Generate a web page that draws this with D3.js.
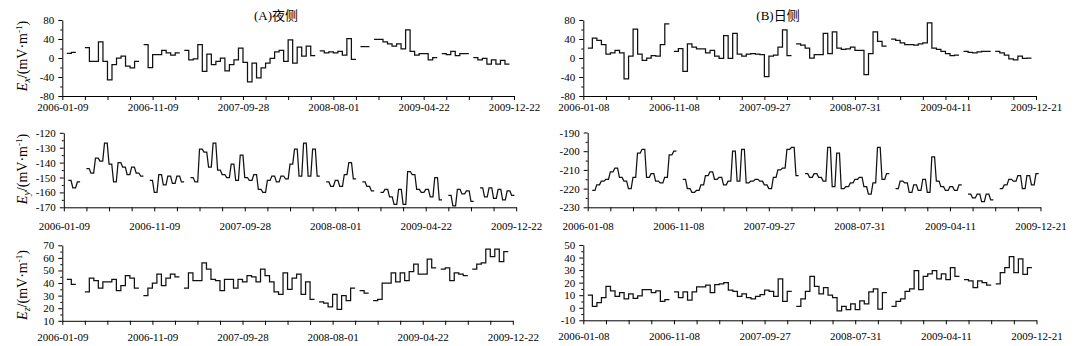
<!DOCTYPE html>
<html><head><meta charset="utf-8">
<script src="https://cdn.jsdelivr.net/npm/d3@7"></script>
<style>
body{margin:0;background:#fff}
svg{display:block}
text{font-family:"Liberation Serif","Times New Roman","Noto Sans CJK SC",serif;fill:#000}
</style>
</head><body>
<svg id="chart" width="1078" height="346"></svg>
<script>
// ---- tick labels (dates under the index axis) ----
const nightDates = ["2006-01-09","2006-11-09","2007-09-28","2008-08-01","2009-04-22","2009-12-22"];
const dayDates   = ["2006-01-08","2006-11-08","2007-09-27","2008-07-31","2009-04-11","2009-12-21"];

// ---- y tick values ----
const exTicks      = [-80,-40,0,40,80];
const eyNightTicks = [-170,-160,-150,-140,-130,-120];
const eyDayTicks   = [-230,-220,-210,-200,-190];
const ezNightTicks = [10,20,30,40,50,60,70];
const ezDayTicks   = [-10,0,10,20,30,40,50];

// ---- series (one value per index step, null = gap) ----
const exNight = [null,10,12,null,null,22,-7,-7,34,-7,-46,-14,0,4,-17,-21,-7,null,28,-20,7,7,16,11,6,11,null,16,-4,-2,28,-28,8,-14,-7,0,-27,-14,-4,21,-9,-50,-11,-42,-21,-11,-1,13,16,-7,38,-11,23,4,25,5,null,15,11,13,11,14,6,41,-3,null,24,24,null,39,39,34,30,25,30,19,59,14,6,9,9,-4,1,null,9,7,14,5,9,9,null,1,-4,-1,-13,-4,-13,-5,-13,null];
const exDay = [null,21,42,37,28,8,11,16,11,-44,4,61,8,-5,0,5,4,28,72,null,14,20,-28,30,23,19,19,11,16,4,-1,47,-1,52,8,4,8,9,8,7,-39,4,6,23,59,5,null,30,27,21,0,7,7,52,9,55,21,18,19,23,16,16,-35,9,55,35,25,null,40,37,32,28,28,27,30,32,74,21,18,14,9,5,6,null,14,12,11,13,14,14,null,14,11,6,-2,-4,4,-1,0,null];
const eyNight = [null,-152,-157,-153,null,-144,-147,-137,-139,-127,-141,-153,-140,-143,-148,-143,-147,-149,null,-152,-160,-148,-155,-149,-154,-149,-153,null,-150,-153,-131,-133,-143,-127,-145,-148,-150,-141,-152,-135,-150,-152,-148,-158,-160,-152,-149,-153,-149,-151,-141,-131,-149,-127,-149,-131,-149,null,-153,-156,-152,-156,-148,-140,-151,null,-153,-156,-159,null,-160,-158,-163,-168,-158,-168,-146,-148,-158,-160,-158,-163,-150,-165,null,-162,-169,-158,-161,-159,-166,null,-157,-163,-157,-164,-158,-165,-159,-162];
const eyDay = [null,-221,-218,-216,-215,-211,-209,-214,-216,-220,-214,-201,-199,-214,-212,-216,-217,-214,-202,-200,null,-215,-220,-222,-221,-218,-213,-211,-215,-214,-218,-216,-200,-216,-199,-217,-216,-215,-216,-218,-220,-214,-210,-209,-199,-198,-213,null,-212,-214,-212,-214,-216,-198,-219,-201,-220,-219,-217,-215,-214,-219,-223,-217,-198,-215,-212,null,-220,-216,-217,-222,-218,-221,-215,-222,-203,-216,-219,-221,-219,-221,-218,null,-223,-225,-223,-227,-223,-226,null,-220,-218,-215,-216,-213,-220,-213,-218,-212];
const ezNight = [null,43,39,null,null,33,44,42,36,41,41,43,34,38,46,44,36,null,30,36,40,47,38,44,47,45,null,36,48,42,42,56,51,43,42,34,43,43,36,43,41,46,45,41,51,46,41,33,31,48,35,44,47,31,41,27,null,25,24,21,31,19,30,26,36,null,34,32,null,26,27,40,40,48,41,48,42,49,55,47,47,59,52,null,51,52,42,48,47,46,null,51,55,56,67,61,67,57,65,null];
const ezDay = [null,10,1,4,8,17,13.5,9,12,7,11,7.5,9.5,14.5,14.5,12,13.5,5,6.5,null,12.7,8,12.7,6,12.7,16.7,16.7,18,12,18.5,19,20,14,13,9,11,8,7,9,10.5,14,13,9,23,5,13,null,1,7,13,25,17,11,16,10,8,-2.5,1,-1.5,3,-1.5,5.5,3,12.7,15,-1,12,null,1,5,7,13,15,29.5,14.5,25,27,29.5,23,27,22.5,32,25,null,22.5,21.5,16,21.5,20,18,null,19,28,32,40.7,28,39,26.5,32,null];

const N = 100; // index steps per panel

const svg = d3.select("#chart");

const panels = [
  {data: exNight, kind:"step", x0:62.3, x1:514,   yTop:20,  yBot:96,    ticks:exTicks,      dates:nightDates, labPad:3,  sub:"x", titleY:56},
  {data: exDay,   kind:"step", x0:583.3,x1:1036,  yTop:20,  yBot:96,    ticks:exTicks,      dates:dayDates,   labPad:3},
  {data: eyNight, kind:"saw",  x0:63.8, x1:516.2, yTop:132.8,yBot:207.3, ticks:eyNightTicks, dates:nightDates, labPad:11, sub:"y", titleY:169},
  {data: eyDay,   kind:"saw",  x0:587.7,x1:1040.5,yTop:132.5,yBot:207.3, ticks:eyDayTicks,   dates:dayDates,   labPad:11},
  {data: ezNight, kind:"step", x0:62.3, x1:512.8, yTop:245.3,yBot:320.8, ticks:ezNightTicks, dates:nightDates, labPad:8, sub:"z", titleY:285},
  {data: ezDay,   kind:"step", x0:583.3,x1:1036.5,yTop:245,  yBot:320.3, ticks:ezDayTicks,   dates:dayDates,   labPad:8}
];

function segments(arr){
  const segs=[]; let cur=null;
  arr.forEach((v,i)=>{
    if(v===null){ if(cur){segs.push(cur);cur=null;} }
    else { if(!cur) cur=[]; cur.push([i,v]); }
  });
  if(cur) segs.push(cur);
  return segs;
}

panels.forEach(p=>{
  const ext = d3.extent(p.ticks);
  const x = d3.scaleLinear().domain([0,N]).range([p.x0,p.x1]);
  const y = d3.scaleLinear().domain(ext).range([p.yBot,p.yTop]);
  const g = svg.append("g");

  // x axis
  const xa = d3.axisBottom(x)
    .tickValues(d3.range(0,N+1,5))
    .tickSize(4).tickSizeOuter(0).tickPadding(p.labPad)
    .tickFormat(d => d%20===0 ? p.dates[d/20] : "");
  const gx = g.append("g").attr("transform",`translate(0,${p.yBot})`).call(xa);
  gx.selectAll("text").style("font-size","11px");

  // y axis, major
  const ya = d3.axisLeft(y).tickValues(p.ticks).tickSize(4).tickSizeOuter(0).tickPadding(4)
    .tickFormat(d=>String(d));
  const gy = g.append("g").attr("transform",`translate(${p.x0},0)`).call(ya);
  gy.selectAll("text").style("font-size","11px");
  // y axis, minor
  const step = p.ticks[1]-p.ticks[0];
  const minor = p.ticks.slice(0,-1).map(t=>t+step/2);
  const gm = g.append("g").attr("transform",`translate(${p.x0},0)`)
    .call(d3.axisLeft(y).tickValues(minor).tickSize(2).tickFormat(""));
  gm.select(".domain").remove();

  g.selectAll(".domain").attr("stroke","#000").attr("stroke-width",1);
  g.selectAll(".tick line").attr("stroke","#000").attr("stroke-width",1);

  // data
  const line = d3.line().x(d=>x(d[0])).y(d=>y(d[1]));
  segments(p.data).forEach(seg=>{
    let pts=[];
    if(p.kind==="step"){
      seg.forEach(([i,v])=>{pts.push([i,v]);pts.push([i+1,v]);});
    } else {
      seg.forEach(([i,v])=>{pts.push([i,v]);pts.push([i+0.6,v]);});
    }
    g.append("path").attr("d",line(pts)).attr("fill","none")
      .attr("stroke","#111").attr("stroke-width",1.25).attr("stroke-linejoin","miter");
  });

  // y title
  if(p.sub){
    const t = svg.append("text")
      .attr("transform",`translate(27,${p.titleY}) rotate(-90)`)
      .attr("text-anchor","middle").style("font-size","14px");
    t.append("tspan").attr("font-style","italic").text("E");
    t.append("tspan").attr("font-style","italic").attr("font-size","10px").attr("dy","3").text(p.sub);
    t.append("tspan").attr("dy","-3").text("/(mV·m");
    t.append("tspan").attr("font-size","9px").attr("dy","-5").text("-1");
    t.append("tspan").attr("dy","5").text(")");
  }
});

svg.append("text").attr("x",276).attr("y",20).attr("text-anchor","middle")
  .style("font-size","13px").text("(A)夜侧");
svg.append("text").attr("x",778).attr("y",20).attr("text-anchor","middle")
  .style("font-size","13px").text("(B)日侧");
</script>
</body></html>
